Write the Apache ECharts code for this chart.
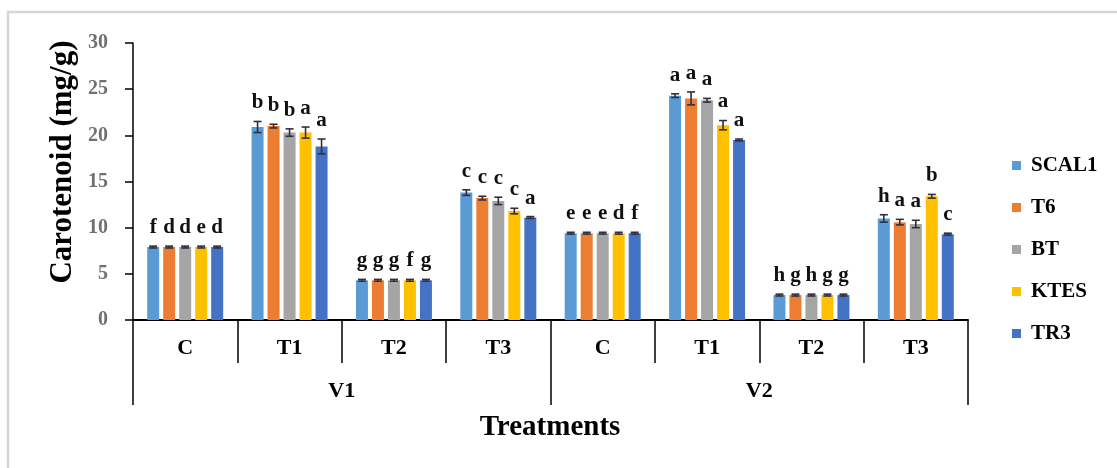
<!DOCTYPE html>
<html>
<head>
<meta charset="utf-8">
<script src="https://cdn.jsdelivr.net/npm/echarts@6/dist/echarts.min.js"></script>
<style>
  html, body { margin: 0; padding: 0; background: #fff; }
  #chart { width: 1117px; height: 468px; }
</style>
</head>
<body>
<div id="chart"></div>
<script>
// Treatment groups along the x axis
const treatments = ['C', 'T1', 'T2', 'T3', 'C', 'T1', 'T2', 'T3'];
const varieties = ['V1', 'V2'];
const strains = ['SCAL1', 'T6', 'BT', 'KTES', 'TR3'];
const yTicks = { min: 0, max: 30, step: 5 };

// Carotenoid content (mg/g) per strain
const scal1 = [7.9, 20.9, 4.3, 13.8, 9.4, 24.3, 2.7, 11.0];
const t6    = [7.9, 21.0, 4.3, 13.2, 9.4, 24.0, 2.7, 10.6];
const bt    = [7.9, 20.3, 4.3, 12.9, 9.4, 23.8, 2.7, 10.4];
const ktes  = [7.9, 20.3, 4.3, 11.8, 9.4, 21.1, 2.7, 13.4];
const tr3   = [7.9, 18.8, 4.3, 11.1, 9.4, 19.5, 2.7, 9.3];

// Standard errors
const errScal1 = [0.1, 0.6, 0.1, 0.3, 0.1, 0.2, 0.1, 0.4];
const errT6    = [0.1, 0.2, 0.1, 0.2, 0.1, 0.7, 0.1, 0.3];
const errBt    = [0.1, 0.4, 0.1, 0.4, 0.1, 0.2, 0.1, 0.4];
const errKtes  = [0.1, 0.6, 0.1, 0.3, 0.1, 0.5, 0.1, 0.2];
const errTr3   = [0.1, 0.8, 0.1, 0.1, 0.1, 0.1, 0.1, 0.1];

// Significance letters
const letScal1 = ['f', 'b', 'g', 'c', 'e', 'a', 'h', 'h'];
const letT6    = ['d', 'b', 'g', 'c', 'e', 'a', 'g', 'a'];
const letBt    = ['d', 'b', 'g', 'c', 'e', 'a', 'h', 'a'];
const letKtes  = ['e', 'a', 'f', 'c', 'd', 'a', 'g', 'b'];
const letTr3   = ['d', 'a', 'g', 'a', 'f', 'a', 'g', 'c'];

const values = [scal1, t6, bt, ktes, tr3];
const errors = [errScal1, errT6, errBt, errKtes, errTr3];
const letters = [letScal1, letT6, letBt, letKtes, letTr3];
const colors = ['#5B9BD5', '#ED7D31', '#A5A5A5', '#FFC000', '#4472C4'];

const FONT = '"Liberation Serif", "Times New Roman", serif';
const BAR_W = 12;
const BAR_GAP = 4;

const chart = echarts.init(document.getElementById('chart'));

const barSeries = strains.map((name, s) => ({
  name: name,
  type: 'bar',
  xAxisIndex: 0,
  data: values[s],
  barWidth: BAR_W,
  barGap: (BAR_GAP / BAR_W * 100) + '%',
  itemStyle: { color: colors[s] },
  z: 2
}));

// Error bars and letters, placed over each bar of the group
const errData = [];
strains.forEach((name, s) => {
  values[s].forEach((v, i) => {
    errData.push([i, s, v, errors[s][i], letters[s][i]]);
  });
});

const errSeries = {
  type: 'custom',
  xAxisIndex: 0,
  data: errData,
  encode: { x: 0, y: 2 },
  z: 5,
  silent: true,
  renderItem: function (params, api) {
    const i = api.value(0);
    const s = api.value(1);
    const v = api.value(2);
    const e = api.value(3);
    const letter = errData[params.dataIndex][4];
    const off = (s - 2) * (BAR_W + BAR_GAP);
    const top = api.coord([i, v + e]);
    const bot = api.coord([i, v - e]);
    const x = top[0] + off;
    const cap = 4;
    const st = { stroke: '#2f2f3f', lineWidth: 1.6 };
    return {
      type: 'group',
      children: [
        { type: 'line', shape: { x1: x, y1: top[1], x2: x, y2: bot[1] }, style: st },
        { type: 'line', shape: { x1: x - cap, y1: top[1], x2: x + cap, y2: top[1] }, style: st },
        { type: 'line', shape: { x1: x - cap, y1: bot[1], x2: x + cap, y2: bot[1] }, style: st },
        {
          type: 'text',
          style: {
            text: letter,
            x: x,
            y: top[1] - 8,
            align: 'center',
            verticalAlign: 'bottom',
            font: 'bold 21px ' + FONT,
            fill: '#111'
          }
        }
      ]
    };
  }
};

const option = {
  backgroundColor: '#ffffff',
  animation: false,
  grid: { left: 133, right: 149, top: 43, bottom: 148, containLabel: false },
  legend: {
    orient: 'vertical',
    left: 1007,
    top: 150,
    itemWidth: 9,
    itemHeight: 9,
    itemGap: 21,
    icon: 'rect',
    data: strains,
    textStyle: { fontFamily: FONT, fontWeight: 'bold', fontSize: 21, color: '#000', padding: [0, 0, 0, 5] }
  },
  xAxis: [
    {
      type: 'category',
      data: treatments,
      position: 'bottom',
      axisLine: { show: true, lineStyle: { color: '#000', width: 2 } },
      axisTick: { show: true, interval: 0, length: 43, lineStyle: { color: '#000', width: 1.5 } },
      axisLabel: { interval: 0, margin: 17, fontFamily: FONT, fontWeight: 'bold', fontSize: 22, color: '#000' },
      splitLine: { show: false }
    },
    {
      type: 'category',
      data: varieties,
      position: 'bottom',
      axisLine: { show: false },
      axisTick: { show: true, interval: 0, length: 85, lineStyle: { color: '#000', width: 1.5 } },
      axisLabel: { interval: 0, margin: 60, fontFamily: FONT, fontWeight: 'bold', fontSize: 22, color: '#000' },
      splitLine: { show: false }
    }
  ],
  yAxis: {
    type: 'value',
    min: yTicks.min,
    max: yTicks.max,
    interval: yTicks.step,
    axisLine: { show: true, lineStyle: { color: '#000', width: 1.5 } },
    axisTick: { show: true, length: 8, lineStyle: { color: '#000', width: 1.5 } },
    axisLabel: { margin: 25, fontFamily: FONT, fontWeight: 'bold', fontSize: 20, color: '#707070' },
    splitLine: { show: false }
  },
  graphic: [
    {
      type: 'rect',
      shape: { x: 8, y: 12, width: 1120, height: 470 },
      style: { fill: 'none', stroke: '#d6d6d6', lineWidth: 2.5 },
      silent: true
    },
    {
      type: 'text',
      x: 63,
      y: 162,
      rotation: Math.PI / 2,
      style: {
        text: 'Carotenoid (mg/g)',
        font: 'bold 31px ' + FONT,
        fill: '#000',
        align: 'center',
        verticalAlign: 'middle'
      }
    },
    {
      type: 'text',
      x: 550,
      y: 428,
      style: {
        text: 'Treatments',
        font: 'bold 29px ' + FONT,
        fill: '#000',
        align: 'center',
        verticalAlign: 'middle'
      }
    }
  ],
  series: barSeries.concat([errSeries])
};

chart.setOption(option);
</script>
</body>
</html>
